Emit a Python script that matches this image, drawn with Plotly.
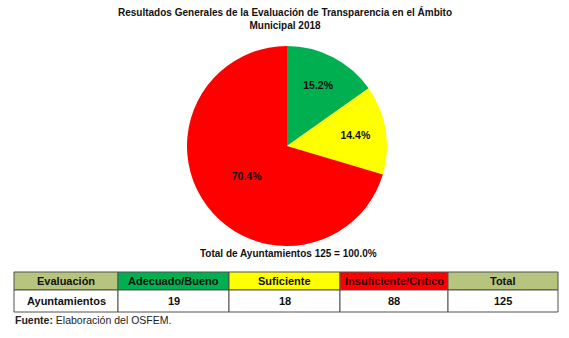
import plotly.graph_objects as go

# Evaluation categories and number of municipalities in each
categorias = ["Adecuado/Bueno", "Suficiente", "Insuficiente/Crítico"]
ayuntamientos = [19, 18, 88]
colores = ["#00B050", "#FFFF00", "#FF0000"]

fila_encabezado = "Evaluación"
fila_datos = "Ayuntamientos"
color_encabezado = "#B7C47E"

W, H = 569, 338
total = sum(ayuntamientos)
FONT = "Liberation Sans, Arial"


def px_x(x):
    return x / W


def px_y(y):
    return 1 - y / H


fig = go.Figure()

# Pie chart
cx, cy, r = 287, 146, 100
fig.add_trace(go.Pie(
    values=ayuntamientos,
    labels=categorias,
    marker=dict(colors=colores, line=dict(width=0)),
    sort=False,
    direction="clockwise",
    rotation=0,
    texttemplate="<b>%{percent:.1%}</b>",
    textposition="inside",
    insidetextorientation="horizontal",
    textfont=dict(family=FONT, size=10.5, color="#111111"),
    showlegend=False,
    hoverinfo="label+value+percent",
    domain=dict(x=[px_x(cx - r), px_x(cx + r)], y=[px_y(cy + r), px_y(cy - r)]),
))

# Summary table drawn as cells (paper coordinates)
col_edges = [14, 118, 229, 340, 448, 558]
row_edges = [272, 290, 312]
header_texts = [fila_encabezado] + categorias + ["Total"]
data_texts = [fila_datos] + [str(v) for v in ayuntamientos] + [str(total)]
header_fill = [color_encabezado] + colores + [color_encabezado]
header_font_colors = ["#111111", "#111111", "#111111", "#2a0000", "#111111"]

shapes = []
annotations = []
for i in range(len(header_texts)):
    x0, x1 = col_edges[i], col_edges[i + 1]
    for j, (fill, txt, fc) in enumerate([
        (header_fill[i], header_texts[i], header_font_colors[i]),
        ("white", data_texts[i], "#111111"),
    ]):
        y0, y1 = row_edges[j], row_edges[j + 1]
        shapes.append(dict(
            type="rect", xref="paper", yref="paper",
            x0=px_x(x0), x1=px_x(x1), y0=px_y(y1), y1=px_y(y0),
            fillcolor=fill, line=dict(color="#505050", width=1), layer="below",
        ))
        annotations.append(dict(
            text=f"<b>{txt}</b>", x=px_x((x0 + x1) / 2), y=px_y((y0 + y1) / 2),
            xref="paper", yref="paper", showarrow=False,
            xanchor="center", yanchor="middle",
            font=dict(family=FONT, size=11, color=fc),
        ))

annotations += [
    dict(text="<b>Resultados Generales de la Evaluación de Transparencia en el Ámbito<br>Municipal 2018</b>",
         x=px_x(285), y=px_y(18), xref="paper", yref="paper", showarrow=False,
         font=dict(family=FONT, size=10, color="#111111"),
         xanchor="center", yanchor="middle", align="center"),
    dict(text=f"<b>Total de Ayuntamientos {total} = 100.0%</b>",
         x=px_x(288), y=px_y(254), xref="paper", yref="paper", showarrow=False,
         font=dict(family=FONT, size=10, color="#111111"),
         xanchor="center", yanchor="middle"),
    dict(text="<b>Fuente:</b> Elaboración del OSFEM.",
         x=px_x(13), y=px_y(320), xref="paper", yref="paper", showarrow=False,
         font=dict(family=FONT, size=10.5, color="#222222"),
         xanchor="left", yanchor="middle"),
]

fig.update_layout(
    width=W, height=H,
    margin=dict(l=0, r=0, t=0, b=0),
    paper_bgcolor="white",
    plot_bgcolor="white",
    shapes=shapes,
    annotations=annotations,
)

fig.write_html("out.html")
